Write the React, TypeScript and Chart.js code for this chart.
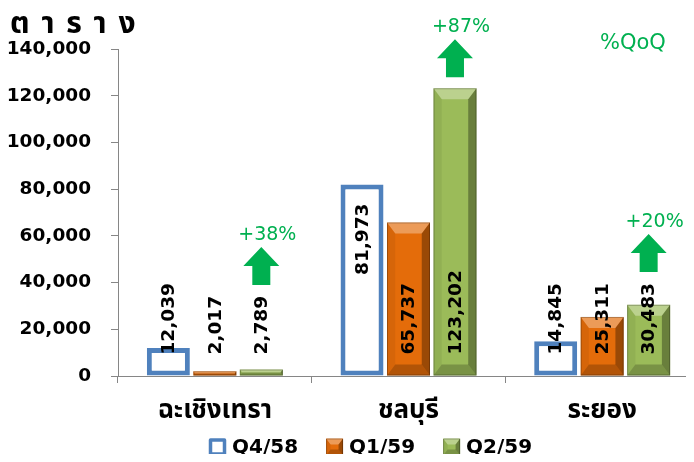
import React, { useEffect, useRef } from "react";
import { Chart, registerables } from "chart.js";
Chart.register(...registerables);

// ---- data ----
const categories = ["ฉะเชิงเทรา", "ชลบุรี", "ระยอง"];
const seriesNames = ["Q4/58", "Q1/59", "Q2/59"];
const q4_58 = [12039, 81973, 14845];
const q1_59 = [2017, 65737, 25311];
const q2_59 = [2789, 123202, 30483];
const yMin = 0;
const yMax = 140000;
const yStep = 20000;
const titleText = "ต า ร า ง";
const qoqText = "%QoQ";

// ---- styles ----
const BLUE = "#4F81BD";
const ORANGE = "#E46C0A";
const GREEN = "#9BBB59";
const ARROW = "#00B050";
const AXIS = "#868686";
const NUM_FONT = "'DejaVu Sans', sans-serif";
const THAI_FONT = "'Noto Sans Thai', 'Leelawadee UI', Tahoma, 'DejaVu Sans', sans-serif";

const fmt = (v: number) => v.toLocaleString("en-US");

function bevel(ctx: CanvasRenderingContext2D, L: number, T: number, R: number, B: number, size: number) {
  const h = B - T;
  const w = R - L;
  const b = Math.max(0, Math.min(size, h / 2, w / 2));
  if (b <= 0) return;
  const poly = (pts: number[][], color: string) => {
    ctx.beginPath();
    ctx.moveTo(pts[0][0], pts[0][1]);
    for (let i = 1; i < pts.length; i++) ctx.lineTo(pts[i][0], pts[i][1]);
    ctx.closePath();
    ctx.fillStyle = color;
    ctx.fill();
  };
  const bs = b * 0.75;
  poly([[L, T], [R, T], [R - bs, T + b], [L + bs, T + b]], "rgba(255,255,255,0.32)");
  poly([[L, T], [L + bs, T + b], [L + bs, B - b], [L, B]], "rgba(0,0,0,0.06)");
  poly([[R, T], [R - bs, T + b], [R - bs, B - b], [R, B]], "rgba(0,0,0,0.32)");
  poly([[L, B], [L + bs, B - b], [R - bs, B - b], [R, B]], "rgba(0,0,0,0.22)");
  ctx.strokeStyle = "rgba(0,0,0,0.25)";
  ctx.lineWidth = 1;
  ctx.strokeRect(L + 0.5, T + 0.5, w - 1, h - 1);
}

const decoPlugin = {
  id: "deco",
  afterDatasetsDraw(chart: any) {
    const ctx: CanvasRenderingContext2D = chart.ctx;
    ctx.save();
    // bevels on filled series
    [1, 2].forEach((di) => {
      const meta = chart.getDatasetMeta(di);
      meta.data.forEach((el: any) => {
        const p = el.getProps(["x", "y", "base", "width"], true);
        bevel(ctx, p.x - p.width / 2, p.y, p.x + p.width / 2, p.base, 11);
      });
    });
    // value labels
    ctx.font = `bold 18.5px ${NUM_FONT}`;
    ctx.fillStyle = "#000";
    ctx.textAlign = "left";
    ctx.textBaseline = "middle";
    const labelTops: number[][] = [[], [], []];
    chart.data.datasets.forEach((ds: any, di: number) => {
      const meta = chart.getDatasetMeta(di);
      meta.data.forEach((el: any, i: number) => {
        const p = el.getProps(["x", "y", "base", "width"], true);
        const text = fmt(ds.data[i]);
        const tw = ctx.measureText(text).width;
        let start = p.base - 21;
        if (di === 0 && p.base - p.y > tw + 40) start = p.y + 19 + tw;
        labelTops[di][i] = start - tw;
        ctx.save();
        ctx.translate(p.x + 1, start);
        ctx.rotate(-Math.PI / 2);
        ctx.fillText(text, 0, 0);
        ctx.restore();
      });
    });
    // growth arrows
    const meta2 = chart.getDatasetMeta(2);
    meta2.data.forEach((el: any, i: number) => {
      const p = el.getProps(["x", "y"], true);
      const bottom = Math.min(p.y, labelTops[2][i]) - 11;
      const top = bottom - 38;
      const cx = p.x;
      ctx.beginPath();
      ctx.moveTo(cx, top);
      ctx.lineTo(cx + 18, top + 19);
      ctx.lineTo(cx + 9, top + 19);
      ctx.lineTo(cx + 9, bottom);
      ctx.lineTo(cx - 9, bottom);
      ctx.lineTo(cx - 9, top + 19);
      ctx.lineTo(cx - 18, top + 19);
      ctx.closePath();
      ctx.fillStyle = ARROW;
      ctx.fill();
      const g = Math.round((q2_59[i] / q1_59[i] - 1) * 100);
      ctx.font = `19px ${NUM_FONT}`;
      ctx.textAlign = "center";
      ctx.textBaseline = "middle";
      ctx.fillText(`+${g}%`, cx + 6, top - 12);
    });
    ctx.restore();
  },
  afterDraw(chart: any) {
    const ctx: CanvasRenderingContext2D = chart.ctx;
    ctx.save();
    // title
    ctx.font = `bold 30px ${THAI_FONT}`;
    (ctx as any).letterSpacing = "2px";
    ctx.fillStyle = "#000";
    ctx.textAlign = "left";
    ctx.textBaseline = "alphabetic";
    ctx.fillText(titleText, 10, 33);
    (ctx as any).letterSpacing = "0px";
    // %QoQ
    ctx.font = `21px ${NUM_FONT}`;
    ctx.fillStyle = ARROW;
    ctx.textBaseline = "middle";
    ctx.fillText(qoqText, 600, 44);
    // legend
    ctx.font = `bold 20px ${NUM_FONT}`;
    const cy = 447;
    let x = 209;
    const box = 17;
    seriesNames.forEach((name, i) => {
      const T = cy - box / 2;
      if (i === 0) {
        ctx.fillStyle = "#fff";
        ctx.strokeStyle = BLUE;
        ctx.lineWidth = 3.5;
        ctx.lineJoin = "round";
        ctx.beginPath();
        ctx.rect(x + 1.5, T + 1.5, box - 3, box - 3);
        ctx.fill();
        ctx.stroke();
      } else {
        ctx.fillStyle = i === 1 ? ORANGE : GREEN;
        ctx.fillRect(x, T, box, box);
        bevel(ctx, x, T, x + box, T + box, 6);
      }
      ctx.fillStyle = "#000";
      ctx.textAlign = "left";
      ctx.textBaseline = "middle";
      const tx = x + box + 6;
      ctx.fillText(name, tx, cy + 1);
      x = tx + ctx.measureText(name).width + 28;
    });
    ctx.restore();
  },
};

export default function App() {
  const ref = useRef<HTMLCanvasElement>(null);
  useEffect(() => {
    if (!ref.current) return;
    const common = { categoryPercentage: 0.72, barPercentage: 0.925 };
    const chart = new Chart(ref.current, {
      type: "bar",
      data: {
        labels: categories,
        datasets: [
          { label: seriesNames[0], data: q4_58, backgroundColor: "#FFFFFF", borderColor: BLUE, borderWidth: 5, borderSkipped: false, ...common },
          { label: seriesNames[1], data: q1_59, backgroundColor: ORANGE, borderWidth: 0, ...common },
          { label: seriesNames[2], data: q2_59, backgroundColor: GREEN, borderWidth: 0, ...common },
        ],
      },
      options: {
        animation: false,
        responsive: false,
        devicePixelRatio: 1,
        layout: { padding: { top: 49, left: 0, right: 1, bottom: 0 } },
        plugins: { legend: { display: false }, tooltip: { enabled: false } },
        scales: {
          x: {
            grid: { display: true, drawOnChartArea: false, drawTicks: true, tickLength: 7, color: AXIS, offset: true },
            border: { color: AXIS, width: 1 },
            ticks: { font: { family: THAI_FONT, size: 26, weight: "bold" }, color: "#000", padding: 14, maxRotation: 0 },
            afterFit: (s: any) => { s.height = 86; },
          },
          y: {
            min: yMin,
            max: yMax,
            ticks: { stepSize: yStep, callback: (v: any) => fmt(Number(v)), font: { family: NUM_FONT, size: 18.5, weight: "bold" }, color: "#000", padding: 20 },
            grid: { drawOnChartArea: false, tickLength: 7, color: AXIS },
            border: { color: AXIS, width: 1 },
            afterFit: (s: any) => { s.width = 118; },
          },
        },
      } as any,
      plugins: [decoPlugin],
    });
    return () => chart.destroy();
  }, []);
  return (
    <div style={{ margin: -8, width: 694, height: 462, overflow: "hidden", background: "#fff" }}>
      <canvas ref={ref} width={700} height={462} style={{ display: "block" }} />
    </div>
  );
}
